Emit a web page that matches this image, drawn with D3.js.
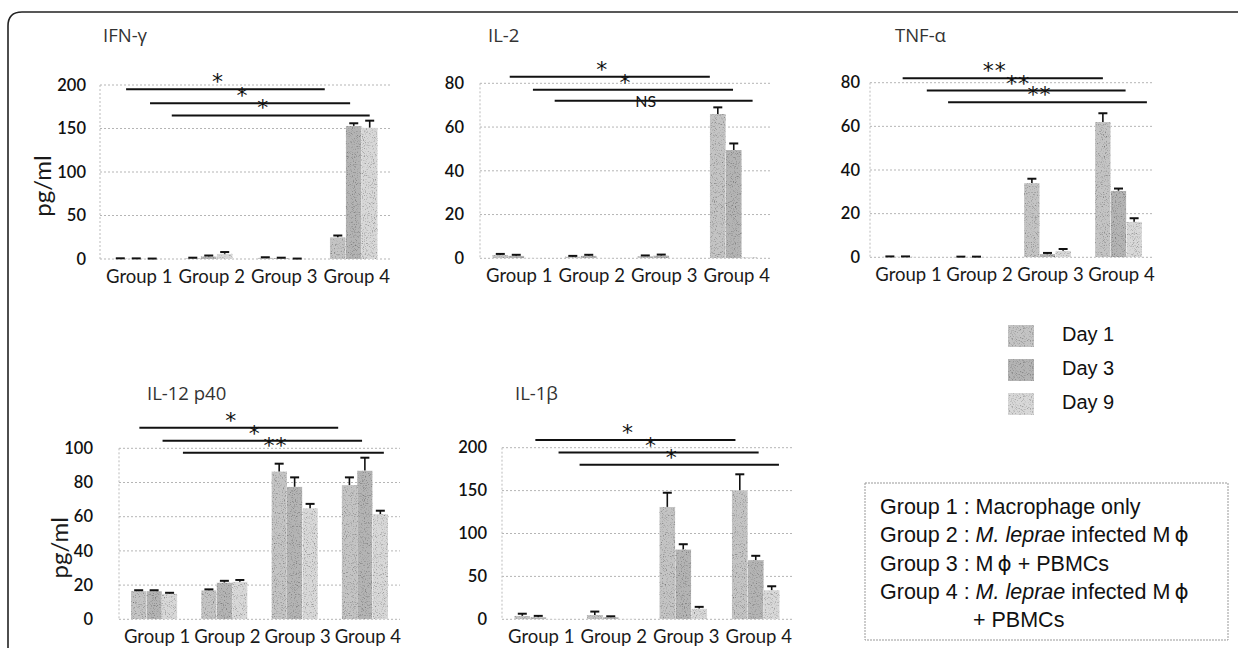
<!DOCTYPE html>
<html>
<head>
<meta charset="utf-8">
<script src="https://cdn.jsdelivr.net/npm/d3@7"></script>
<style>
  body{margin:0;background:#fff;}
  svg{display:block;}
</style>
</head>
<body>
<script>
// categories
var groups=["Group 1","Group 2","Group 3","Group 4"]
var days=["Day 1","Day 3","Day 9"]

// IFN-gamma (mean, error) per group -> [day1, day3, day9]
var ifnMean=[[0.5,0.4,0.3],[1,3,6],[1.5,1,0.3],[25,153,151]]
var ifnErr=[[0.3,0.3,0.2],[0.5,1,2],[0.5,0.5,0.2],[2,3,8]]
var ifnTicks=[0,50,100,150,200]
var ifnSig=[[0.36,3.1,195,"*"],[0.69,3.45,179,"*"],[0.99,3.72,165,"*"]]

// IL-2
var il2Mean=[[1.5,1.2,0.2],[0.8,1.2,0.1],[1,1.3,0.1],[66,49.5,0.5]]
var il2Err=[[0.5,0.4,0],[0.3,0.4,0],[0.3,0.4,0],[3,3,0]]
var il2Ticks=[0,20,40,60,80]
var il2Sig=[[0.41,3.17,83,"*"],[0.73,3.49,77,"*"],[1.03,3.76,72,"NS"]]

// TNF-alpha
var tnfMean=[[0.3,0.3,0.1],[0.2,0.2,0.1],[34,1.5,3],[62,30.5,16.3]]
var tnfErr=[[0.1,0.1,0],[0.1,0.1,0],[2,0.5,0.8],[4,1,1.6]]
var tnfTicks=[0,20,40,60,80]
var tnfSig=[[0.46,3.28,82,"**"],[0.8,3.6,76.4,"**"],[1.1,3.9,71,"**"]]

// IL-12 p40
var il12Mean=[[16.5,16.5,15],[17,21.5,22],[86.5,77.5,65],[78.5,87,61.5]]
var il12Err=[[0.5,0.5,0.5],[0.5,1,1],[4.5,5.5,2.5],[4.5,7.5,2]]
var il12Ticks=[0,20,40,60,80,100]
var il12Sig=[[0.29,3.12,112,"*"],[0.62,3.46,104.4,"*"],[0.91,3.77,97.4,"**"]]

// IL-1beta
var il1Mean=[[4,2.5,0.5],[5,2.5,0.5],[131,81.5,12.5],[150.5,69,34]]
var il1Err=[[2.5,1.5,0],[4,1,0],[16.5,6,2],[18.5,5,4.5]]
var il1Ticks=[0,50,100,150,200]
var il1Sig=[[0.46,3.22,209,"*"],[0.78,3.54,194.3,"*"],[1.07,3.82,180,"*"]]

var groupNotes=[
  [{t:"Group 1 : Macrophage only"}],
  [{t:"Group 2 : "},{t:"M. leprae",i:true},{t:" infected M"},{t:"ϕ",phi:true}],
  [{t:"Group 3 : M"},{t:"ϕ",phi:true},{t:" + PBMCs"}],
  [{t:"Group 4 : "},{t:"M. leprae",i:true},{t:" infected M"},{t:"ϕ",phi:true}],
  [{t:"+ PBMCs"}]
]

var panels=[
  {title:"IFN-γ",mean:ifnMean,err:ifnErr,ticks:ifnTicks,sig:ifnSig,x0:100,x1:390,yTop:85,yBot:259,titleX:103,titleY:42,tickPad:14,unitX:45},
  {title:"IL-2",mean:il2Mean,err:il2Err,ticks:il2Ticks,sig:il2Sig,x0:480,x1:770,yTop:83.3,yBot:258.3,titleX:488,titleY:42,tickPad:16},
  {title:"TNF-α",mean:tnfMean,err:tnfErr,ticks:tnfTicks,sig:tnfSig,x0:870,x1:1154,yTop:82.7,yBot:257.3,titleX:895,titleY:42,tickPad:10},
  {title:"IL-12 p40",mean:il12Mean,err:il12Err,ticks:il12Ticks,sig:il12Sig,x0:119,x1:400,yTop:448.3,yBot:619.3,titleX:147,titleY:400,tickPad:26,unitX:62},
  {title:"IL-1β",mean:il1Mean,err:il1Err,ticks:il1Ticks,sig:il1Sig,x0:502,x1:792,yTop:447.7,yBot:619.3,titleX:515,titleY:400,tickPad:15}
]

var screen={width:1238,height:648}
var color=d3.scaleOrdinal().domain(days).range(["#c4c4c4","#b4b4b4","#d8d8d8"])

var svg=d3.select("body").append("svg")
          .attr("width",screen.width)
          .attr("height",screen.height)

// grainy texture for the bars
var defs=svg.append("defs")
var f=defs.append("filter").attr("id","grain").attr("x",0).attr("y",0).attr("width","100%").attr("height","100%")
  .attr("color-interpolation-filters","sRGB")
f.append("feTurbulence").attr("type","fractalNoise").attr("baseFrequency",0.9).attr("numOctaves",2).attr("seed",4).attr("result","noise")
f.append("feColorMatrix").attr("in","noise").attr("type","saturate").attr("values",0).attr("result","g")
var ct=f.append("feComponentTransfer").attr("in","g").attr("result","g2")
ct.append("feFuncR").attr("type","linear").attr("slope",1.3).attr("intercept",0.38)
ct.append("feFuncG").attr("type","linear").attr("slope",1.3).attr("intercept",0.38)
ct.append("feFuncB").attr("type","linear").attr("slope",1.3).attr("intercept",0.38)
ct.append("feFuncA").attr("type","linear").attr("slope",0).attr("intercept",1)
f.append("feBlend").attr("in","SourceGraphic").attr("in2","g2").attr("mode","multiply").attr("result","b")
f.append("feComposite").attr("in","b").attr("in2","SourceGraphic").attr("operator","in")

// outer frame
svg.append("path")
   .attr("d","M8,650 L8,26 Q8,12 22,12 L1238,12")
   .attr("fill","none").attr("stroke","#222").attr("stroke-width",1.6)

var drawPanel=function(p)
{
  var g=svg.append("g").classed("panel",true)
  var yMax=d3.max(p.ticks)
  var yScale=d3.scaleLinear().domain([0,yMax]).range([p.yBot,p.yTop])
  var xBand=d3.scaleBand().domain(groups).range([p.x0,p.x1])
  var xDay=d3.scaleBand().domain(days)
             .range([xBand.bandwidth()*0.17,xBand.bandwidth()*0.83])
  var xPos=d3.scaleLinear().domain([0,groups.length]).range([p.x0,p.x1])

  // dotted grid
  g.selectAll("line.grid").data(p.ticks).enter().append("line")
   .attr("x1",p.x0).attr("x2",p.x1)
   .attr("y1",function(d){return yScale(d)}).attr("y2",function(d){return yScale(d)})
   .attr("stroke","#b5b5b5").attr("stroke-width",1).attr("stroke-dasharray","2,2")
  g.append("line").attr("x1",p.x0).attr("x2",p.x0).attr("y1",p.yTop).attr("y2",p.yBot)
   .attr("stroke","#bbb").attr("stroke-width",1).attr("stroke-dasharray","2,2")

  // y axis labels
  var yAxis=d3.axisLeft(yScale).tickValues(p.ticks).tickSize(0).tickPadding(p.tickPad)
  var ya=g.append("g").attr("transform","translate("+p.x0+",0)").call(yAxis)
  ya.select(".domain").remove()
  ya.selectAll("text").attr("font-family","Lato, sans-serif").attr("font-size",16.5)
    .attr("font-weight",600).attr("fill","#111")

  // x axis labels
  var xAxis=d3.axisBottom(xBand).tickSize(0).tickPadding(11)
  var xa=g.append("g").attr("transform","translate(0,"+p.yBot+")").call(xAxis)
  xa.select(".domain").remove()
  xa.selectAll("text").attr("font-family","Lato, sans-serif").attr("font-size",18.5)
    .attr("fill","#1a1a1a").attr("dx",3)

  // bars
  var cells=[]
  p.mean.forEach(function(row,gi){
    row.forEach(function(v,di){cells.push({g:groups[gi],d:days[di],v:v,e:p.err[gi][di]})})
  })
  var bx=function(c){return xBand(c.g)+xDay(c.d)}
  g.selectAll("rect.bar").data(cells).enter().append("rect")
   .attr("x",bx).attr("y",function(c){return yScale(c.v)})
   .attr("width",xDay.bandwidth())
   .attr("height",function(c){return p.yBot-yScale(c.v)})
   .attr("fill",function(c){return color(c.d)})
   .attr("filter","url(#grain)")

  // error bars (upper whisker only)
  var eb=g.selectAll("g.err").data(cells.filter(function(c){return c.e>0})).enter().append("g")
  eb.append("line")
    .attr("x1",function(c){return bx(c)+xDay.bandwidth()/2}).attr("x2",function(c){return bx(c)+xDay.bandwidth()/2})
    .attr("y1",function(c){return yScale(c.v)}).attr("y2",function(c){return yScale(c.v+c.e)})
    .attr("stroke","#111").attr("stroke-width",1.6)
  eb.append("line")
    .attr("x1",function(c){return bx(c)+xDay.bandwidth()/2-4.5}).attr("x2",function(c){return bx(c)+xDay.bandwidth()/2+4.5})
    .attr("y1",function(c){return yScale(c.v+c.e)}).attr("y2",function(c){return yScale(c.v+c.e)})
    .attr("stroke","#111").attr("stroke-width",2)

  // significance lines
  g.selectAll("line.sig").data(p.sig).enter().append("line")
   .attr("x1",function(s){return xPos(s[0])}).attr("x2",function(s){return xPos(s[1])})
   .attr("y1",function(s){return yScale(s[2])}).attr("y2",function(s){return yScale(s[2])})
   .attr("stroke","#111").attr("stroke-width",2)
  g.selectAll("text.sig").data(p.sig).enter().append("text")
   .attr("x",function(s){return (xPos(s[0])+xPos(s[1]))/2-8})
   .attr("y",function(s){return yScale(s[2])+(s[3]=="NS"?6:0)})
   .attr("text-anchor","middle")
   .attr("font-family",function(s){return s[3]=="NS"?"Lato, sans-serif":"DejaVu Sans, sans-serif"})
   .attr("font-size",function(s){return s[3]=="NS"?16:22})
   .attr("letter-spacing",function(s){return s[3]=="**"?1:0})
   .attr("fill","#111")
   .text(function(s){return s[3]})

  // title
  g.append("text").attr("x",p.titleX).attr("y",p.titleY)
   .attr("font-family","Open Sans, sans-serif").attr("font-size",18.5)
   .attr("fill","#333").text(p.title)

  if(p.unitX){
    g.append("text")
     .attr("transform","translate("+p.unitX+","+((p.yTop+p.yBot)/2+14)+") rotate(-90)")
     .attr("text-anchor","middle").attr("dominant-baseline","middle")
     .attr("font-family","Lato, sans-serif").attr("font-size",24).attr("fill","#1a1a1a")
     .text("pg/ml")
  }
}

panels.forEach(drawPanel)

// day legend
var legend=svg.append("g").classed("legend",true).attr("transform","translate(1008,325)")
var li=legend.selectAll("g").data(days).enter().append("g")
             .attr("transform",function(d,i){return "translate(0,"+(i*34)+")"})
li.append("rect").attr("width",26).attr("height",22)
  .attr("fill",function(d){return color(d)}).attr("filter","url(#grain)")
li.append("text").attr("x",54).attr("y",11).attr("dominant-baseline","middle")
  .attr("font-family","Liberation Sans, Arial, sans-serif").attr("font-size",20)
  .attr("fill","#111").text(function(d){return d})

// group description box
var box=svg.append("g").classed("groups",true)
box.append("rect").attr("x",865).attr("y",483).attr("width",363).attr("height",157)
   .attr("fill","none").attr("stroke","#999").attr("stroke-width",1).attr("stroke-dasharray","2,1")
var lines=box.selectAll("text").data(groupNotes).enter().append("text")
   .attr("x",function(d,i){return i==4?973:880})
   .attr("y",function(d,i){return 514+i*28.3})
   .attr("font-family","Liberation Sans, Arial, sans-serif").attr("font-size",21.5)
   .attr("fill","#111")
lines.selectAll("tspan").data(function(d){return d}).enter().append("tspan")
   .attr("font-style",function(s){return s.i?"italic":null})
   .attr("font-family",function(s){return s.phi?"DejaVu Sans, sans-serif":null})
   .attr("dx",function(s){return s.phi?4:null})
   .text(function(s){return s.t})
</script>
</body>
</html>
